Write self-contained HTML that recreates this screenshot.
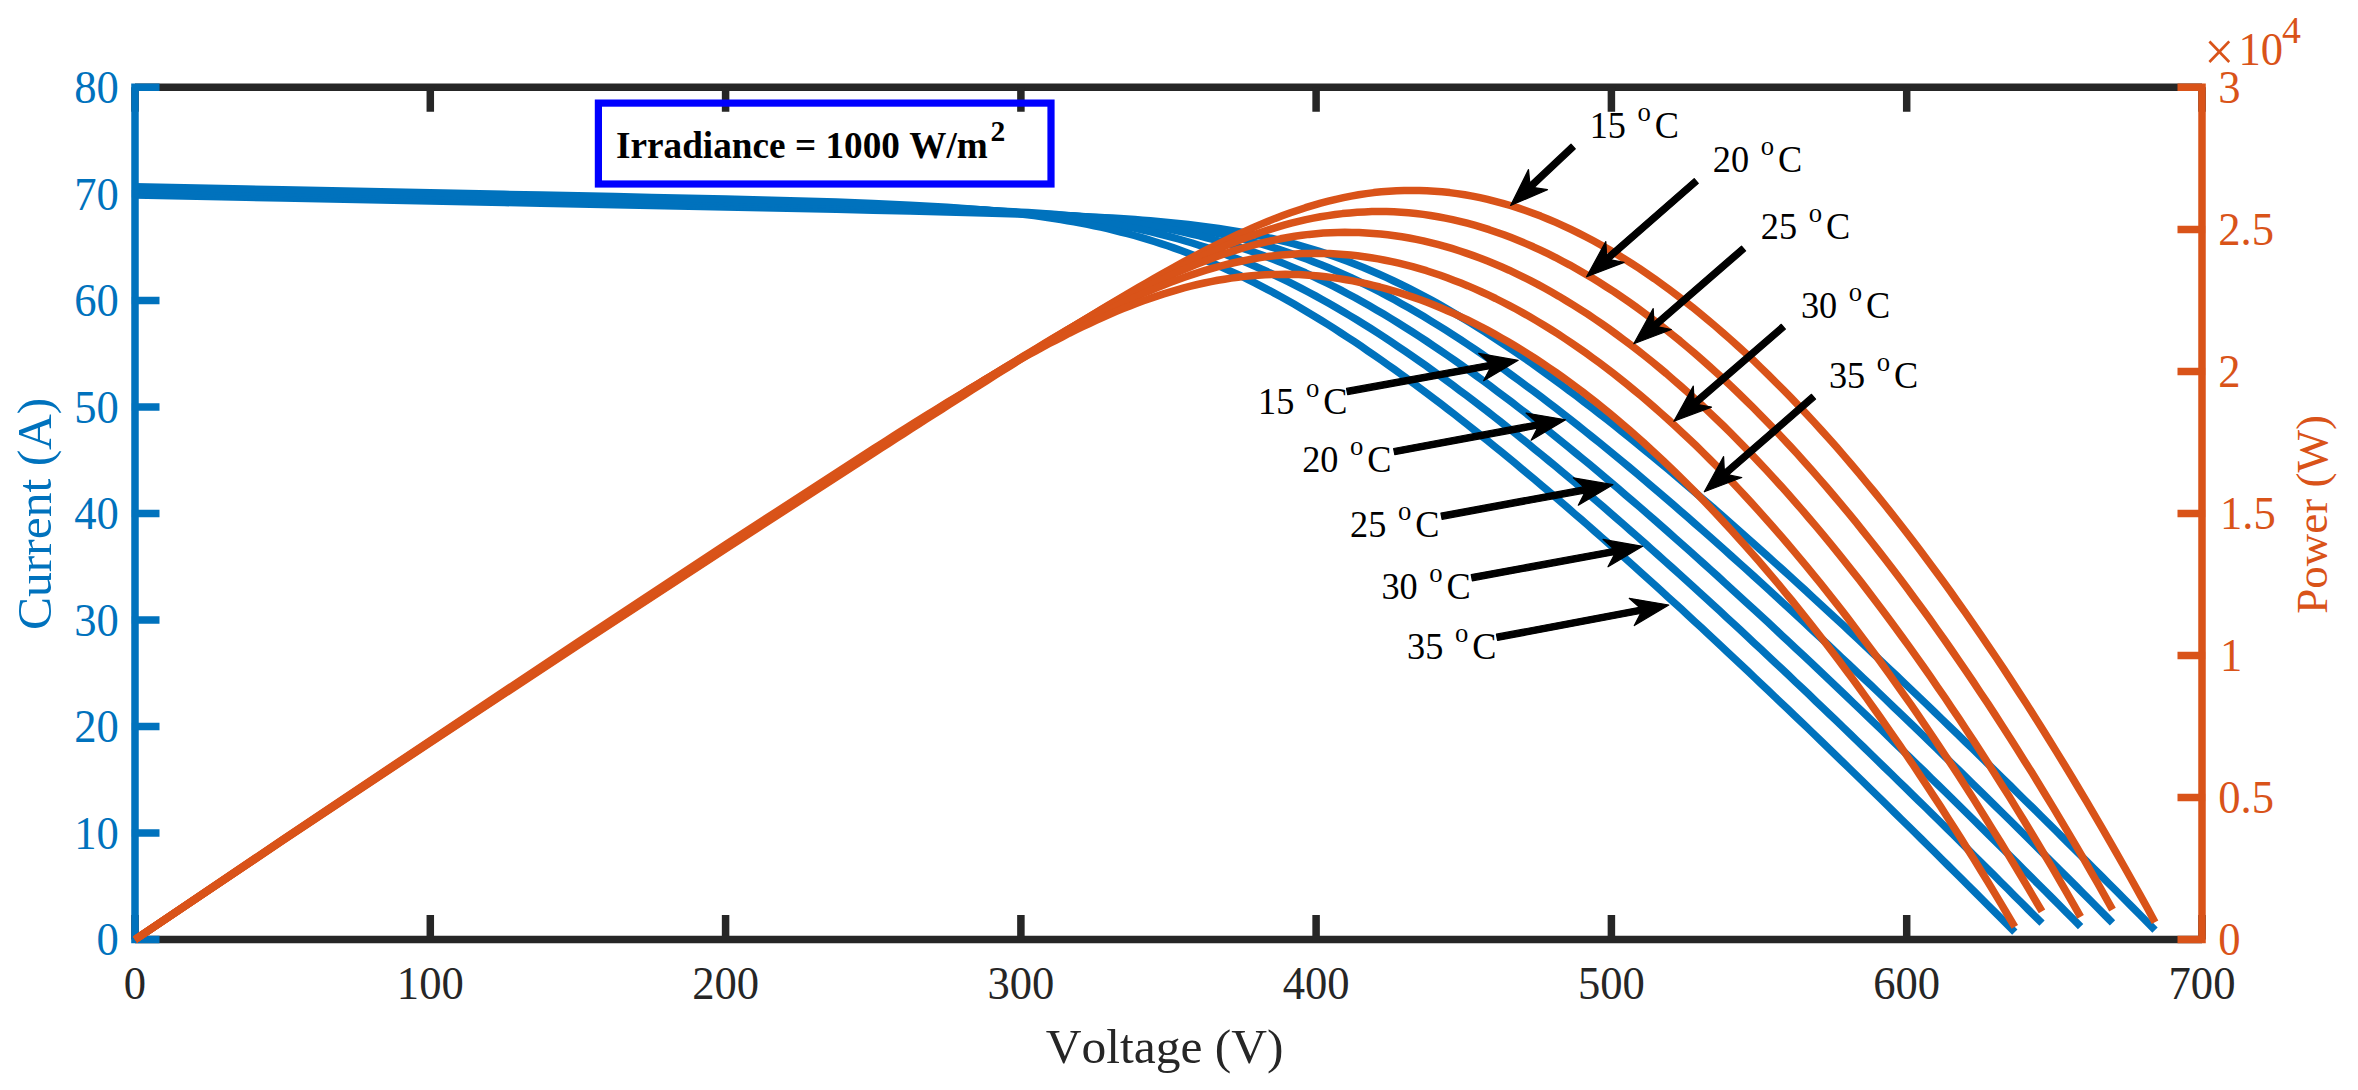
<!DOCTYPE html>
<html lang="en"><head><meta charset="utf-8"><title>PV array I-V and P-V characteristics</title>
<style>html,body{margin:0;padding:0;background:#fff}body{width:2358px;height:1090px;overflow:hidden}svg{display:block}</style>
</head><body>
<svg width="2358" height="1090" viewBox="0 0 2358 1090">
<rect width="2358" height="1090" fill="#fff"/>
<g stroke="#262626" stroke-width="7.5" fill="none">
<path d="M135.0 87.3H2202.0M135.0 939.6H2202.0"/>
<path d="M135.0 87.3v24.5M135.0 939.6v-24.5M430.3 87.3v24.5M430.3 939.6v-24.5M725.6 87.3v24.5M725.6 939.6v-24.5M1020.9 87.3v24.5M1020.9 939.6v-24.5M1316.1 87.3v24.5M1316.1 939.6v-24.5M1611.4 87.3v24.5M1611.4 939.6v-24.5M1906.7 87.3v24.5M1906.7 939.6v-24.5M2202.0 87.3v24.5M2202.0 939.6v-24.5"/></g>
<g stroke="#0072BD" fill="none">
<path stroke-width="7.5" d="M135.0 83.55V943.35M131.2 939.6H159.5M131.2 833.1H159.5M131.2 726.5H159.5M131.2 620.0H159.5M131.2 513.5H159.5M131.2 406.9H159.5M131.2 300.4H159.5M131.2 193.8H159.5M131.2 87.3H159.5"/>
<g stroke-width="7.5" stroke-linejoin="round">
<path d="M135.0 195.1 L171.9 195.8 L208.8 196.5 L245.7 197.3 L282.6 198.0 L319.6 198.8 L356.5 199.5 L393.4 200.3 L430.3 201.0 L467.2 201.8 L504.1 202.5 L541.0 203.3 L577.9 204.0 L614.8 204.8 L651.8 205.5 L688.7 206.3 L725.6 207.0 L762.5 207.8 L799.4 208.6 L836.3 209.3 L873.2 210.2 L910.1 211.0 L947.0 211.9 L983.9 212.9 L1020.9 214.0 L1028.5 214.3 L1036.1 214.6 L1043.7 214.9 L1051.3 215.2 L1058.9 215.5 L1066.5 215.8 L1074.1 216.1 L1081.8 216.5 L1089.4 216.9 L1097.0 217.3 L1104.6 217.7 L1112.2 218.1 L1119.8 218.6 L1127.4 219.1 L1135.0 219.6 L1142.6 220.2 L1150.3 220.8 L1157.9 221.5 L1165.5 222.2 L1173.1 222.9 L1180.7 223.7 L1188.3 224.5 L1195.9 225.4 L1203.5 226.4 L1211.2 227.4 L1218.8 228.5 L1226.4 229.7 L1234.0 231.0 L1241.6 232.3 L1249.2 233.7 L1256.8 235.2 L1264.4 236.8 L1272.1 238.5 L1279.7 240.3 L1287.3 242.2 L1294.9 244.2 L1302.5 246.4 L1310.1 248.6 L1317.7 250.9 L1325.3 253.4 L1333.0 256.0 L1340.6 258.7 L1348.2 261.5 L1355.8 264.5 L1363.4 267.5 L1371.0 270.7 L1378.6 274.0 L1386.2 277.4 L1393.8 281.0 L1401.5 284.7 L1409.1 288.4 L1416.7 292.3 L1424.3 296.3 L1431.9 300.4 L1439.5 304.6 L1447.1 309.0 L1454.7 313.4 L1462.4 317.9 L1470.0 322.5 L1477.6 327.3 L1485.2 332.1 L1492.8 337.0 L1500.4 342.0 L1508.0 347.0 L1515.6 352.2 L1523.3 357.4 L1530.9 362.7 L1538.5 368.1 L1546.1 373.6 L1553.7 379.1 L1561.3 384.7 L1568.9 390.4 L1576.5 396.1 L1584.1 401.9 L1591.8 407.8 L1599.4 413.7 L1607.0 419.6 L1614.6 425.7 L1622.2 431.7 L1629.8 437.9 L1637.4 444.0 L1645.0 450.3 L1652.7 456.5 L1660.3 462.9 L1667.9 469.2 L1675.5 475.6 L1683.1 482.1 L1690.7 488.6 L1698.3 495.1 L1705.9 501.6 L1713.6 508.2 L1721.2 514.9 L1728.8 521.6 L1736.4 528.3 L1744.0 535.0 L1751.6 541.8 L1759.2 548.6 L1766.8 555.4 L1774.4 562.2 L1782.1 569.1 L1789.7 576.0 L1797.3 583.0 L1804.9 589.9 L1812.5 596.9 L1820.1 603.9 L1827.7 611.0 L1835.3 618.0 L1843.0 625.1 L1850.6 632.2 L1858.2 639.4 L1865.8 646.5 L1873.4 653.7 L1881.0 660.9 L1888.6 668.1 L1896.2 675.3 L1903.9 682.6 L1911.5 689.9 L1919.1 697.1 L1926.7 704.4 L1934.3 711.8 L1941.9 719.1 L1949.5 726.5 L1957.1 733.8 L1964.7 741.2 L1972.4 748.6 L1980.0 756.0 L1987.6 763.5 L1995.2 770.9 L2002.8 778.4 L2010.4 785.8 L2018.0 793.3 L2025.6 800.8 L2033.3 808.3 L2040.9 815.8 L2048.5 823.4 L2056.1 830.9 L2063.7 838.5 L2071.3 846.1 L2078.9 853.6 L2086.5 861.2 L2094.2 868.8 L2101.8 876.5 L2109.4 884.1 L2117.0 891.7 L2124.6 899.4 L2132.2 907.0 L2139.8 914.7 L2147.4 922.4 L2155.0 930.1"/>
<path d="M135.0 193.4 L171.9 194.2 L208.8 194.9 L245.7 195.7 L282.6 196.4 L319.6 197.2 L356.5 197.9 L393.4 198.6 L430.3 199.4 L467.2 200.1 L504.1 200.9 L541.0 201.6 L577.9 202.4 L614.8 203.1 L651.8 203.9 L688.7 204.7 L725.6 205.4 L762.5 206.2 L799.4 207.0 L836.3 207.8 L873.2 208.7 L910.1 209.6 L947.0 210.6 L983.9 211.8 L1020.9 213.2 L1028.2 213.6 L1035.5 213.9 L1042.8 214.3 L1050.2 214.6 L1057.5 215.0 L1064.8 215.5 L1072.1 215.9 L1079.5 216.4 L1086.8 216.9 L1094.1 217.4 L1101.5 217.9 L1108.8 218.5 L1116.1 219.2 L1123.4 219.8 L1130.8 220.6 L1138.1 221.3 L1145.4 222.1 L1152.7 223.0 L1160.1 223.9 L1167.4 224.9 L1174.7 225.9 L1182.0 227.0 L1189.4 228.2 L1196.7 229.5 L1204.0 230.8 L1211.4 232.2 L1218.7 233.7 L1226.0 235.2 L1233.3 236.9 L1240.7 238.7 L1248.0 240.5 L1255.3 242.5 L1262.6 244.5 L1270.0 246.7 L1277.3 248.9 L1284.6 251.3 L1291.9 253.8 L1299.3 256.4 L1306.6 259.1 L1313.9 261.9 L1321.2 264.8 L1328.6 267.8 L1335.9 270.9 L1343.2 274.2 L1350.6 277.5 L1357.9 281.0 L1365.2 284.5 L1372.5 288.2 L1379.9 292.0 L1387.2 295.8 L1394.5 299.8 L1401.8 303.9 L1409.2 308.0 L1416.5 312.3 L1423.8 316.6 L1431.1 321.1 L1438.5 325.6 L1445.8 330.2 L1453.1 334.9 L1460.5 339.6 L1467.8 344.5 L1475.1 349.4 L1482.4 354.4 L1489.8 359.5 L1497.1 364.6 L1504.4 369.8 L1511.7 375.1 L1519.1 380.5 L1526.4 385.9 L1533.7 391.3 L1541.0 396.8 L1548.4 402.4 L1555.7 408.0 L1563.0 413.7 L1570.4 419.5 L1577.7 425.2 L1585.0 431.1 L1592.3 437.0 L1599.7 442.9 L1607.0 448.9 L1614.3 454.9 L1621.6 460.9 L1629.0 467.0 L1636.3 473.2 L1643.6 479.3 L1650.9 485.6 L1658.3 491.8 L1665.6 498.1 L1672.9 504.4 L1680.3 510.8 L1687.6 517.1 L1694.9 523.6 L1702.2 530.0 L1709.6 536.5 L1716.9 543.0 L1724.2 549.5 L1731.5 556.1 L1738.9 562.7 L1746.2 569.3 L1753.5 575.9 L1760.8 582.6 L1768.2 589.3 L1775.5 596.0 L1782.8 602.7 L1790.2 609.5 L1797.5 616.3 L1804.8 623.1 L1812.1 629.9 L1819.5 636.7 L1826.8 643.6 L1834.1 650.5 L1841.4 657.4 L1848.8 664.3 L1856.1 671.2 L1863.4 678.2 L1870.7 685.1 L1878.1 692.1 L1885.4 699.1 L1892.7 706.2 L1900.1 713.2 L1907.4 720.2 L1914.7 727.3 L1922.0 734.4 L1929.4 741.5 L1936.7 748.6 L1944.0 755.7 L1951.3 762.9 L1958.7 770.0 L1966.0 777.2 L1973.3 784.4 L1980.6 791.5 L1988.0 798.7 L1995.3 806.0 L2002.6 813.2 L2010.0 820.4 L2017.3 827.7 L2024.6 834.9 L2031.9 842.2 L2039.3 849.5 L2046.6 856.8 L2053.9 864.1 L2061.2 871.4 L2068.6 878.7 L2075.9 886.0 L2083.2 893.4 L2090.5 900.7 L2097.9 908.1 L2105.2 915.5 L2112.5 922.8"/>
<path d="M135.0 191.0 L171.9 191.7 L208.8 192.4 L245.7 193.2 L282.6 193.9 L319.6 194.7 L356.5 195.4 L393.4 196.2 L430.3 196.9 L467.2 197.7 L504.1 198.4 L541.0 199.2 L577.9 199.9 L614.8 200.7 L651.8 201.4 L688.7 202.2 L725.6 203.0 L762.5 203.8 L799.4 204.6 L836.3 205.5 L873.2 206.4 L910.1 207.5 L947.0 208.8 L983.9 210.3 L1020.9 212.2 L1028.0 212.6 L1035.1 213.1 L1042.2 213.6 L1049.3 214.1 L1056.4 214.6 L1063.5 215.2 L1070.6 215.8 L1077.8 216.4 L1084.9 217.1 L1092.0 217.8 L1099.1 218.6 L1106.2 219.4 L1113.3 220.3 L1120.4 221.2 L1127.5 222.2 L1134.7 223.2 L1141.8 224.3 L1148.9 225.5 L1156.0 226.7 L1163.1 228.0 L1170.2 229.4 L1177.3 230.8 L1184.4 232.4 L1191.6 234.0 L1198.7 235.7 L1205.8 237.5 L1212.9 239.4 L1220.0 241.4 L1227.1 243.4 L1234.2 245.6 L1241.3 247.9 L1248.5 250.2 L1255.6 252.7 L1262.7 255.3 L1269.8 258.0 L1276.9 260.7 L1284.0 263.6 L1291.1 266.6 L1298.2 269.7 L1305.4 272.8 L1312.5 276.1 L1319.6 279.5 L1326.7 283.0 L1333.8 286.5 L1340.9 290.2 L1348.0 294.0 L1355.2 297.8 L1362.3 301.8 L1369.4 305.8 L1376.5 309.9 L1383.6 314.1 L1390.7 318.4 L1397.8 322.8 L1404.9 327.2 L1412.1 331.7 L1419.2 336.3 L1426.3 341.0 L1433.4 345.8 L1440.5 350.6 L1447.6 355.5 L1454.7 360.4 L1461.8 365.4 L1469.0 370.5 L1476.1 375.6 L1483.2 380.8 L1490.3 386.1 L1497.4 391.4 L1504.5 396.7 L1511.6 402.1 L1518.7 407.6 L1525.9 413.1 L1533.0 418.7 L1540.1 424.3 L1547.2 429.9 L1554.3 435.6 L1561.4 441.4 L1568.5 447.2 L1575.6 453.0 L1582.8 458.8 L1589.9 464.7 L1597.0 470.7 L1604.1 476.7 L1611.2 482.7 L1618.3 488.7 L1625.4 494.8 L1632.5 500.9 L1639.7 507.0 L1646.8 513.2 L1653.9 519.4 L1661.0 525.6 L1668.1 531.9 L1675.2 538.2 L1682.3 544.5 L1689.4 550.8 L1696.6 557.2 L1703.7 563.6 L1710.8 570.0 L1717.9 576.4 L1725.0 582.9 L1732.1 589.4 L1739.2 595.9 L1746.3 602.4 L1753.5 609.0 L1760.6 615.5 L1767.7 622.1 L1774.8 628.7 L1781.9 635.4 L1789.0 642.0 L1796.1 648.7 L1803.2 655.3 L1810.4 662.0 L1817.5 668.8 L1824.6 675.5 L1831.7 682.2 L1838.8 689.0 L1845.9 695.8 L1853.0 702.6 L1860.1 709.4 L1867.3 716.2 L1874.4 723.1 L1881.5 729.9 L1888.6 736.8 L1895.7 743.7 L1902.8 750.6 L1909.9 757.5 L1917.0 764.4 L1924.2 771.3 L1931.3 778.3 L1938.4 785.2 L1945.5 792.2 L1952.6 799.2 L1959.7 806.2 L1966.8 813.2 L1973.9 820.2 L1981.1 827.2 L1988.2 834.3 L1995.3 841.3 L2002.4 848.4 L2009.5 855.4 L2016.6 862.5 L2023.7 869.6 L2030.8 876.7 L2038.0 883.8 L2045.1 890.9 L2052.2 898.0 L2059.3 905.2 L2066.4 912.3 L2073.5 919.4 L2080.6 926.6"/>
<path d="M135.0 189.2 L171.9 190.0 L208.8 190.7 L245.7 191.5 L282.6 192.2 L319.6 193.0 L356.5 193.7 L393.4 194.5 L430.3 195.2 L467.2 196.0 L504.1 196.7 L541.0 197.5 L577.9 198.2 L614.8 199.0 L651.8 199.7 L688.7 200.5 L725.6 201.3 L762.5 202.2 L799.4 203.1 L836.3 204.1 L873.2 205.2 L910.1 206.4 L947.0 208.0 L983.9 210.0 L1020.9 212.7 L1027.7 213.3 L1034.6 213.9 L1041.4 214.6 L1048.3 215.2 L1055.1 216.0 L1062.0 216.8 L1068.8 217.6 L1075.7 218.4 L1082.5 219.4 L1089.4 220.3 L1096.2 221.4 L1103.1 222.4 L1109.9 223.6 L1116.8 224.8 L1123.7 226.1 L1130.5 227.4 L1137.4 228.8 L1144.2 230.3 L1151.1 231.9 L1157.9 233.5 L1164.8 235.3 L1171.6 237.1 L1178.5 239.0 L1185.3 241.0 L1192.2 243.0 L1199.0 245.2 L1205.9 247.4 L1212.7 249.8 L1219.6 252.2 L1226.4 254.7 L1233.3 257.4 L1240.2 260.1 L1247.0 262.9 L1253.9 265.8 L1260.7 268.8 L1267.6 271.8 L1274.4 275.0 L1281.3 278.3 L1288.1 281.6 L1295.0 285.1 L1301.8 288.6 L1308.7 292.2 L1315.5 295.9 L1322.4 299.7 L1329.2 303.5 L1336.1 307.5 L1342.9 311.5 L1349.8 315.6 L1356.7 319.8 L1363.5 324.0 L1370.4 328.3 L1377.2 332.7 L1384.1 337.2 L1390.9 341.7 L1397.8 346.3 L1404.6 350.9 L1411.5 355.6 L1418.3 360.4 L1425.2 365.2 L1432.0 370.1 L1438.9 375.0 L1445.7 380.0 L1452.6 385.1 L1459.4 390.2 L1466.3 395.3 L1473.2 400.5 L1480.0 405.8 L1486.9 411.0 L1493.7 416.4 L1500.6 421.8 L1507.4 427.2 L1514.3 432.6 L1521.1 438.1 L1528.0 443.7 L1534.8 449.3 L1541.7 454.9 L1548.5 460.5 L1555.4 466.2 L1562.2 471.9 L1569.1 477.7 L1576.0 483.4 L1582.8 489.3 L1589.7 495.1 L1596.5 501.0 L1603.4 506.9 L1610.2 512.8 L1617.1 518.8 L1623.9 524.8 L1630.8 530.8 L1637.6 536.8 L1644.5 542.9 L1651.3 549.0 L1658.2 555.1 L1665.0 561.2 L1671.9 567.4 L1678.7 573.6 L1685.6 579.8 L1692.5 586.0 L1699.3 592.2 L1706.2 598.5 L1713.0 604.8 L1719.9 611.1 L1726.7 617.4 L1733.6 623.8 L1740.4 630.1 L1747.3 636.5 L1754.1 642.9 L1761.0 649.3 L1767.8 655.7 L1774.7 662.2 L1781.5 668.6 L1788.4 675.1 L1795.2 681.6 L1802.1 688.1 L1809.0 694.6 L1815.8 701.2 L1822.7 707.7 L1829.5 714.3 L1836.4 720.8 L1843.2 727.4 L1850.1 734.0 L1856.9 740.6 L1863.8 747.3 L1870.6 753.9 L1877.5 760.6 L1884.3 767.2 L1891.2 773.9 L1898.0 780.6 L1904.9 787.3 L1911.7 794.0 L1918.6 800.7 L1925.5 807.4 L1932.3 814.2 L1939.2 820.9 L1946.0 827.7 L1952.9 834.4 L1959.7 841.2 L1966.6 848.0 L1973.4 854.8 L1980.3 861.6 L1987.1 868.4 L1994.0 875.2 L2000.8 882.1 L2007.7 888.9 L2014.5 895.8 L2021.4 902.6 L2028.2 909.5 L2035.1 916.4 L2042.0 923.2"/>
<path d="M135.0 186.8 L171.9 187.6 L208.8 188.3 L245.7 189.1 L282.6 189.8 L319.6 190.6 L356.5 191.3 L393.4 192.1 L430.3 192.8 L467.2 193.6 L504.1 194.3 L541.0 195.1 L577.9 195.8 L614.8 196.6 L651.8 197.4 L688.7 198.2 L725.6 199.1 L762.5 200.0 L799.4 201.0 L836.3 202.1 L873.2 203.5 L910.1 205.2 L947.0 207.3 L983.9 210.1 L1020.9 213.9 L1027.5 214.7 L1034.2 215.6 L1040.9 216.5 L1047.5 217.5 L1054.2 218.5 L1060.9 219.5 L1067.6 220.7 L1074.2 221.8 L1080.9 223.1 L1087.6 224.4 L1094.2 225.8 L1100.9 227.2 L1107.6 228.7 L1114.2 230.3 L1120.9 232.0 L1127.6 233.7 L1134.3 235.5 L1140.9 237.4 L1147.6 239.4 L1154.3 241.5 L1160.9 243.6 L1167.6 245.8 L1174.3 248.1 L1181.0 250.5 L1187.6 253.0 L1194.3 255.6 L1201.0 258.3 L1207.6 261.0 L1214.3 263.8 L1221.0 266.8 L1227.6 269.8 L1234.3 272.9 L1241.0 276.0 L1247.7 279.3 L1254.3 282.6 L1261.0 286.1 L1267.7 289.6 L1274.3 293.1 L1281.0 296.8 L1287.7 300.5 L1294.4 304.3 L1301.0 308.2 L1307.7 312.2 L1314.4 316.2 L1321.0 320.3 L1327.7 324.4 L1334.4 328.7 L1341.0 333.0 L1347.7 337.3 L1354.4 341.7 L1361.1 346.2 L1367.7 350.8 L1374.4 355.3 L1381.1 360.0 L1387.7 364.7 L1394.4 369.4 L1401.1 374.3 L1407.8 379.1 L1414.4 384.0 L1421.1 389.0 L1427.8 394.0 L1434.4 399.0 L1441.1 404.1 L1447.8 409.2 L1454.5 414.4 L1461.1 419.6 L1467.8 424.9 L1474.5 430.2 L1481.1 435.5 L1487.8 440.9 L1494.5 446.3 L1501.1 451.7 L1507.8 457.2 L1514.5 462.7 L1521.2 468.3 L1527.8 473.8 L1534.5 479.4 L1541.2 485.1 L1547.8 490.7 L1554.5 496.4 L1561.2 502.1 L1567.9 507.9 L1574.5 513.7 L1581.2 519.4 L1587.9 525.3 L1594.5 531.1 L1601.2 537.0 L1607.9 542.9 L1614.5 548.8 L1621.2 554.7 L1627.9 560.7 L1634.6 566.7 L1641.2 572.7 L1647.9 578.7 L1654.6 584.8 L1661.2 590.8 L1667.9 596.9 L1674.6 603.0 L1681.3 609.1 L1687.9 615.3 L1694.6 621.4 L1701.3 627.6 L1707.9 633.8 L1714.6 640.0 L1721.3 646.2 L1727.9 652.5 L1734.6 658.7 L1741.3 665.0 L1748.0 671.3 L1754.6 677.6 L1761.3 683.9 L1768.0 690.2 L1774.6 696.6 L1781.3 702.9 L1788.0 709.3 L1794.7 715.7 L1801.3 722.0 L1808.0 728.4 L1814.7 734.9 L1821.3 741.3 L1828.0 747.7 L1834.7 754.2 L1841.4 760.7 L1848.0 767.1 L1854.7 773.6 L1861.4 780.1 L1868.0 786.6 L1874.7 793.1 L1881.4 799.7 L1888.0 806.2 L1894.7 812.7 L1901.4 819.3 L1908.1 825.9 L1914.7 832.4 L1921.4 839.0 L1928.1 845.6 L1934.7 852.2 L1941.4 858.8 L1948.1 865.5 L1954.8 872.1 L1961.4 878.7 L1968.1 885.4 L1974.8 892.0 L1981.4 898.7 L1988.1 905.4 L1994.8 912.0 L2001.4 918.7 L2008.1 925.4 L2014.8 932.1"/>
</g></g>
<g stroke="#D95319" fill="none">
<path stroke-width="7.5" d="M2202.0 83.55V943.35M2205.8 939.6H2177.5M2205.8 797.5H2177.5M2205.8 655.5H2177.5M2205.8 513.5H2177.5M2205.8 371.4H2177.5M2205.8 229.4H2177.5M2205.8 87.3H2177.5"/>
<g stroke-width="7.5" stroke-linejoin="round">
<path d="M135.0 939.6 L282.6 840.7 L430.3 742.6 L577.9 645.4 L725.6 548.9 L873.2 453.3 L880.8 448.4 L888.4 443.5 L896.0 438.7 L903.6 433.8 L911.1 428.9 L918.7 424.1 L926.3 419.2 L933.9 414.4 L941.5 409.5 L949.1 404.7 L956.6 399.8 L964.2 395.0 L971.8 390.2 L979.4 385.3 L987.0 380.5 L994.6 375.7 L1002.2 370.9 L1009.7 366.2 L1017.3 361.4 L1024.9 356.6 L1032.5 351.9 L1040.1 347.1 L1047.7 342.4 L1055.3 337.7 L1062.8 333.0 L1070.4 328.3 L1078.0 323.6 L1085.6 319.0 L1093.2 314.4 L1100.8 309.8 L1108.3 305.2 L1115.9 300.7 L1123.5 296.2 L1131.1 291.7 L1138.7 287.3 L1146.3 282.9 L1153.9 278.5 L1161.4 274.2 L1169.0 270.0 L1176.6 265.8 L1184.2 261.6 L1191.8 257.6 L1199.4 253.6 L1206.9 249.6 L1214.5 245.8 L1222.1 242.0 L1229.7 238.3 L1237.3 234.7 L1244.9 231.3 L1252.5 227.9 L1260.0 224.6 L1267.6 221.5 L1275.2 218.4 L1282.8 215.6 L1290.4 212.8 L1298.0 210.2 L1305.5 207.7 L1313.1 205.4 L1320.7 203.2 L1328.3 201.2 L1335.9 199.3 L1343.5 197.7 L1351.1 196.1 L1358.6 194.8 L1366.2 193.6 L1373.8 192.6 L1381.4 191.8 L1389.0 191.2 L1396.6 190.7 L1404.2 190.4 L1411.7 190.4 L1419.3 190.4 L1426.9 190.7 L1434.5 191.2 L1442.1 191.8 L1449.7 192.6 L1457.2 193.6 L1464.8 194.8 L1472.4 196.1 L1480.0 197.7 L1487.6 199.4 L1495.2 201.3 L1502.8 203.3 L1510.3 205.5 L1517.9 207.9 L1525.5 210.5 L1533.1 213.2 L1540.7 216.1 L1548.3 219.2 L1555.8 222.4 L1563.4 225.8 L1571.0 229.4 L1578.6 233.1 L1586.2 237.0 L1593.8 241.0 L1601.4 245.2 L1608.9 249.5 L1616.5 254.0 L1624.1 258.7 L1631.7 263.5 L1639.3 268.4 L1646.9 273.6 L1654.5 278.8 L1662.0 284.2 L1669.6 289.7 L1677.2 295.4 L1684.8 301.3 L1692.4 307.2 L1700.0 313.4 L1707.5 319.6 L1715.1 326.0 L1722.7 332.6 L1730.3 339.3 L1737.9 346.1 L1745.5 353.0 L1753.1 360.1 L1760.6 367.4 L1768.2 374.7 L1775.8 382.3 L1783.4 389.9 L1791.0 397.7 L1798.6 405.6 L1806.1 413.6 L1813.7 421.8 L1821.3 430.1 L1828.9 438.6 L1836.5 447.1 L1844.1 455.9 L1851.7 464.7 L1859.2 473.7 L1866.8 482.8 L1874.4 492.0 L1882.0 501.3 L1889.6 510.8 L1897.2 520.5 L1904.8 530.2 L1912.3 540.1 L1919.9 550.1 L1927.5 560.2 L1935.1 570.5 L1942.7 580.8 L1950.3 591.3 L1957.8 602.0 L1965.4 612.7 L1973.0 623.6 L1980.6 634.6 L1988.2 645.8 L1995.8 657.0 L2003.4 668.4 L2010.9 679.9 L2018.5 691.6 L2026.1 703.3 L2033.7 715.2 L2041.3 727.2 L2048.9 739.4 L2056.4 751.6 L2064.0 764.0 L2071.6 776.5 L2079.2 789.2 L2086.8 801.9 L2094.4 814.8 L2102.0 827.8 L2109.5 840.9 L2117.1 854.1 L2124.7 867.5 L2132.3 881.0 L2139.9 894.6 L2147.5 908.3 L2155.0 922.2"/>
<path d="M135.0 939.6 L282.6 840.5 L430.3 742.2 L577.9 644.7 L725.6 548.0 L873.2 452.3 L880.5 447.6 L887.9 442.9 L895.2 438.2 L902.5 433.5 L909.9 428.7 L917.2 424.1 L924.5 419.4 L931.9 414.7 L939.2 410.0 L946.5 405.3 L953.9 400.7 L961.2 396.0 L968.5 391.4 L975.9 386.7 L983.2 382.1 L990.5 377.5 L997.9 372.9 L1005.2 368.3 L1012.5 363.7 L1019.9 359.1 L1027.2 354.6 L1034.5 350.0 L1041.9 345.5 L1049.2 341.0 L1056.5 336.5 L1063.9 332.1 L1071.2 327.7 L1078.5 323.3 L1085.9 318.9 L1093.2 314.6 L1100.5 310.3 L1107.9 306.0 L1115.2 301.8 L1122.5 297.6 L1129.9 293.5 L1137.2 289.4 L1144.5 285.4 L1151.9 281.4 L1159.2 277.5 L1166.5 273.7 L1173.9 269.9 L1181.2 266.2 L1188.5 262.6 L1195.9 259.1 L1203.2 255.7 L1210.5 252.3 L1217.9 249.1 L1225.2 246.0 L1232.5 242.9 L1239.9 240.0 L1247.2 237.2 L1254.5 234.6 L1261.9 232.0 L1269.2 229.6 L1276.5 227.4 L1283.9 225.2 L1291.2 223.2 L1298.5 221.4 L1305.9 219.7 L1313.2 218.2 L1320.5 216.8 L1327.9 215.6 L1335.2 214.5 L1342.5 213.6 L1349.9 212.9 L1357.2 212.3 L1364.5 211.9 L1371.9 211.6 L1379.2 211.5 L1386.5 211.6 L1393.9 211.8 L1401.2 212.2 L1408.5 212.8 L1415.9 213.5 L1423.2 214.4 L1430.5 215.5 L1437.9 216.7 L1445.2 218.1 L1452.5 219.6 L1459.9 221.3 L1467.2 223.2 L1474.5 225.2 L1481.9 227.4 L1489.2 229.7 L1496.5 232.2 L1503.9 234.8 L1511.2 237.6 L1518.5 240.5 L1525.9 243.6 L1533.2 246.8 L1540.5 250.2 L1547.9 253.7 L1555.2 257.3 L1562.5 261.2 L1569.9 265.1 L1577.2 269.2 L1584.5 273.4 L1591.9 277.8 L1599.2 282.3 L1606.5 287.0 L1613.9 291.7 L1621.2 296.7 L1628.5 301.7 L1635.9 306.9 L1643.2 312.2 L1650.5 317.7 L1657.9 323.3 L1665.2 329.0 L1672.5 334.9 L1679.9 340.8 L1687.2 347.0 L1694.5 353.2 L1701.9 359.6 L1709.2 366.1 L1716.5 372.7 L1723.9 379.4 L1731.2 386.3 L1738.5 393.3 L1745.9 400.5 L1753.2 407.7 L1760.5 415.1 L1767.9 422.6 L1775.2 430.2 L1782.5 438.0 L1789.9 445.9 L1797.2 453.8 L1804.5 462.0 L1811.9 470.2 L1819.2 478.6 L1826.5 487.0 L1833.9 495.7 L1841.2 504.4 L1848.5 513.2 L1855.9 522.2 L1863.2 531.3 L1870.5 540.5 L1877.9 549.8 L1885.2 559.2 L1892.5 568.8 L1899.9 578.5 L1907.2 588.3 L1914.5 598.2 L1921.9 608.2 L1929.2 618.3 L1936.5 628.6 L1943.9 639.0 L1951.2 649.5 L1958.5 660.1 L1965.9 670.8 L1973.2 681.7 L1980.5 692.7 L1987.9 703.7 L1995.2 714.9 L2002.5 726.2 L2009.9 737.7 L2017.2 749.2 L2024.5 760.9 L2031.9 772.6 L2039.2 784.5 L2046.5 796.5 L2053.9 808.6 L2061.2 820.9 L2068.5 833.2 L2075.9 845.7 L2083.2 858.2 L2090.5 870.9 L2097.9 883.7 L2105.2 896.6 L2112.5 909.7"/>
<path d="M135.0 939.6 L282.6 840.2 L430.3 741.6 L577.9 643.7 L725.6 546.7 L873.2 450.8 L880.4 446.2 L887.5 441.6 L894.6 437.1 L901.8 432.5 L908.9 427.9 L916.1 423.3 L923.2 418.8 L930.4 414.2 L937.5 409.7 L944.7 405.1 L951.8 400.6 L958.9 396.1 L966.1 391.6 L973.2 387.1 L980.4 382.7 L987.5 378.2 L994.7 373.8 L1001.8 369.3 L1009.0 364.9 L1016.1 360.6 L1023.2 356.2 L1030.4 351.9 L1037.5 347.6 L1044.7 343.3 L1051.8 339.0 L1059.0 334.8 L1066.1 330.6 L1073.3 326.5 L1080.4 322.4 L1087.5 318.3 L1094.7 314.3 L1101.8 310.3 L1109.0 306.4 L1116.1 302.6 L1123.3 298.8 L1130.4 295.0 L1137.6 291.4 L1144.7 287.8 L1151.9 284.3 L1159.0 280.8 L1166.1 277.5 L1173.3 274.2 L1180.4 271.1 L1187.6 268.0 L1194.7 265.0 L1201.9 262.2 L1209.0 259.4 L1216.2 256.8 L1223.3 254.3 L1230.4 251.9 L1237.6 249.6 L1244.7 247.5 L1251.9 245.5 L1259.0 243.6 L1266.2 241.9 L1273.3 240.3 L1280.5 238.8 L1287.6 237.5 L1294.7 236.3 L1301.9 235.3 L1309.0 234.4 L1316.2 233.7 L1323.3 233.1 L1330.5 232.7 L1337.6 232.4 L1344.8 232.3 L1351.9 232.4 L1359.0 232.5 L1366.2 232.9 L1373.3 233.4 L1380.5 234.0 L1387.6 234.8 L1394.8 235.7 L1401.9 236.8 L1409.1 238.0 L1416.2 239.4 L1423.3 240.9 L1430.5 242.6 L1437.6 244.4 L1444.8 246.3 L1451.9 248.4 L1459.1 250.7 L1466.2 253.1 L1473.4 255.6 L1480.5 258.2 L1487.6 261.0 L1494.8 264.0 L1501.9 267.0 L1509.1 270.2 L1516.2 273.6 L1523.4 277.1 L1530.5 280.7 L1537.7 284.4 L1544.8 288.3 L1551.9 292.3 L1559.1 296.4 L1566.2 300.7 L1573.4 305.1 L1580.5 309.6 L1587.7 314.2 L1594.8 319.0 L1602.0 323.9 L1609.1 328.9 L1616.2 334.1 L1623.4 339.4 L1630.5 344.7 L1637.7 350.3 L1644.8 355.9 L1652.0 361.7 L1659.1 367.5 L1666.3 373.5 L1673.4 379.7 L1680.5 385.9 L1687.7 392.3 L1694.8 398.7 L1702.0 405.3 L1709.1 412.1 L1716.3 418.9 L1723.4 425.8 L1730.6 432.9 L1737.7 440.1 L1744.8 447.4 L1752.0 454.8 L1759.1 462.3 L1766.3 470.0 L1773.4 477.7 L1780.6 485.6 L1787.7 493.6 L1794.9 501.7 L1802.0 509.9 L1809.1 518.2 L1816.3 526.7 L1823.4 535.2 L1830.6 543.9 L1837.7 552.7 L1844.9 561.6 L1852.0 570.6 L1859.2 579.7 L1866.3 588.9 L1873.4 598.3 L1880.6 607.7 L1887.7 617.3 L1894.9 626.9 L1902.0 636.7 L1909.2 646.6 L1916.3 656.6 L1923.5 666.7 L1930.6 676.9 L1937.7 687.3 L1944.9 697.7 L1952.0 708.3 L1959.2 718.9 L1966.3 729.7 L1973.5 740.6 L1980.6 751.6 L1987.8 762.7 L1994.9 773.9 L2002.0 785.2 L2009.2 796.6 L2016.3 808.1 L2023.5 819.8 L2030.6 831.5 L2037.8 843.4 L2044.9 855.3 L2052.1 867.4 L2059.2 879.6 L2066.3 891.9 L2073.5 904.3 L2080.6 916.8"/>
<path d="M135.0 939.6 L282.6 839.9 L430.3 741.1 L577.9 643.0 L725.6 545.9 L873.2 450.0 L880.1 445.5 L887.0 441.1 L894.0 436.7 L900.9 432.3 L907.8 427.9 L914.7 423.5 L921.6 419.1 L928.5 414.7 L935.5 410.4 L942.4 406.0 L949.3 401.7 L956.2 397.4 L963.1 393.1 L970.0 388.8 L976.9 384.6 L983.9 380.3 L990.8 376.1 L997.7 371.9 L1004.6 367.7 L1011.5 363.6 L1018.4 359.5 L1025.4 355.4 L1032.3 351.4 L1039.2 347.4 L1046.1 343.4 L1053.0 339.5 L1059.9 335.6 L1066.9 331.8 L1073.8 328.0 L1080.7 324.3 L1087.6 320.6 L1094.5 317.0 L1101.4 313.5 L1108.3 310.0 L1115.3 306.6 L1122.2 303.2 L1129.1 300.0 L1136.0 296.8 L1142.9 293.7 L1149.8 290.7 L1156.8 287.8 L1163.7 285.0 L1170.6 282.3 L1177.5 279.7 L1184.4 277.2 L1191.3 274.9 L1198.2 272.6 L1205.2 270.4 L1212.1 268.4 L1219.0 266.5 L1225.9 264.7 L1232.8 263.0 L1239.7 261.5 L1246.7 260.1 L1253.6 258.8 L1260.5 257.6 L1267.4 256.6 L1274.3 255.8 L1281.2 255.0 L1288.2 254.4 L1295.1 253.9 L1302.0 253.6 L1308.9 253.4 L1315.8 253.3 L1322.7 253.4 L1329.6 253.6 L1336.6 254.0 L1343.5 254.5 L1350.4 255.1 L1357.3 255.8 L1364.2 256.7 L1371.1 257.8 L1378.1 258.9 L1385.0 260.2 L1391.9 261.6 L1398.8 263.2 L1405.7 264.9 L1412.6 266.7 L1419.5 268.7 L1426.5 270.7 L1433.4 273.0 L1440.3 275.3 L1447.2 277.8 L1454.1 280.4 L1461.0 283.1 L1468.0 285.9 L1474.9 288.9 L1481.8 292.0 L1488.7 295.2 L1495.6 298.5 L1502.5 302.0 L1509.5 305.6 L1516.4 309.3 L1523.3 313.1 L1530.2 317.0 L1537.1 321.1 L1544.0 325.2 L1550.9 329.5 L1557.9 333.9 L1564.8 338.5 L1571.7 343.1 L1578.6 347.9 L1585.5 352.7 L1592.4 357.7 L1599.4 362.8 L1606.3 368.0 L1613.2 373.3 L1620.1 378.8 L1627.0 384.3 L1633.9 390.0 L1640.8 395.7 L1647.8 401.6 L1654.7 407.6 L1661.6 413.7 L1668.5 419.9 L1675.4 426.2 L1682.3 432.7 L1689.3 439.2 L1696.2 445.8 L1703.1 452.6 L1710.0 459.5 L1716.9 466.4 L1723.8 473.5 L1730.8 480.7 L1737.7 488.0 L1744.6 495.4 L1751.5 502.9 L1758.4 510.5 L1765.3 518.2 L1772.2 526.0 L1779.2 533.9 L1786.1 542.0 L1793.0 550.1 L1799.9 558.3 L1806.8 566.7 L1813.7 575.1 L1820.7 583.7 L1827.6 592.3 L1834.5 601.1 L1841.4 609.9 L1848.3 618.9 L1855.2 628.0 L1862.1 637.2 L1869.1 646.4 L1876.0 655.8 L1882.9 665.3 L1889.8 674.9 L1896.7 684.6 L1903.6 694.3 L1910.6 704.2 L1917.5 714.2 L1924.4 724.3 L1931.3 734.5 L1938.2 744.8 L1945.1 755.2 L1952.1 765.7 L1959.0 776.3 L1965.9 787.0 L1972.8 797.8 L1979.7 808.7 L1986.6 819.7 L1993.5 830.9 L2000.5 842.1 L2007.4 853.4 L2014.3 864.8 L2021.2 876.3 L2028.1 887.9 L2035.0 899.6 L2042.0 911.4"/>
<path d="M135.0 939.6 L282.6 839.6 L430.3 740.5 L577.9 642.1 L725.6 544.7 L873.2 448.9 L880.0 444.6 L886.7 440.3 L893.5 436.0 L900.2 431.7 L907.0 427.5 L913.7 423.2 L920.5 419.0 L927.3 414.8 L934.0 410.6 L940.8 406.4 L947.5 402.3 L954.3 398.2 L961.0 394.1 L967.8 390.0 L974.5 385.9 L981.3 381.9 L988.0 377.9 L994.8 374.0 L1001.6 370.0 L1008.3 366.2 L1015.1 362.3 L1021.8 358.5 L1028.6 354.8 L1035.3 351.1 L1042.1 347.4 L1048.8 343.8 L1055.6 340.3 L1062.4 336.8 L1069.1 333.3 L1075.9 330.0 L1082.6 326.7 L1089.4 323.5 L1096.1 320.4 L1102.9 317.3 L1109.6 314.3 L1116.4 311.4 L1123.1 308.6 L1129.9 305.9 L1136.7 303.3 L1143.4 300.8 L1150.2 298.4 L1156.9 296.1 L1163.7 293.9 L1170.4 291.8 L1177.2 289.8 L1183.9 287.9 L1190.7 286.2 L1197.4 284.5 L1204.2 283.0 L1211.0 281.6 L1217.7 280.3 L1224.5 279.2 L1231.2 278.1 L1238.0 277.2 L1244.7 276.4 L1251.5 275.7 L1258.2 275.2 L1265.0 274.8 L1271.8 274.5 L1278.5 274.4 L1285.3 274.3 L1292.0 274.4 L1298.8 274.6 L1305.5 275.0 L1312.3 275.5 L1319.0 276.1 L1325.8 276.8 L1332.5 277.6 L1339.3 278.6 L1346.1 279.7 L1352.8 280.9 L1359.6 282.3 L1366.3 283.7 L1373.1 285.3 L1379.8 287.0 L1386.6 288.9 L1393.3 290.8 L1400.1 292.9 L1406.8 295.1 L1413.6 297.4 L1420.4 299.8 L1427.1 302.3 L1433.9 305.0 L1440.6 307.8 L1447.4 310.7 L1454.1 313.7 L1460.9 316.8 L1467.6 320.0 L1474.4 323.4 L1481.2 326.8 L1487.9 330.4 L1494.7 334.1 L1501.4 337.9 L1508.2 341.8 L1514.9 345.8 L1521.7 349.9 L1528.4 354.1 L1535.2 358.5 L1541.9 362.9 L1548.7 367.5 L1555.5 372.1 L1562.2 376.9 L1569.0 381.8 L1575.7 386.8 L1582.5 391.8 L1589.2 397.0 L1596.0 402.3 L1602.7 407.7 L1609.5 413.2 L1616.3 418.9 L1623.0 424.6 L1629.8 430.4 L1636.5 436.3 L1643.3 442.3 L1650.0 448.5 L1656.8 454.7 L1663.5 461.0 L1670.3 467.5 L1677.0 474.0 L1683.8 480.7 L1690.6 487.4 L1697.3 494.2 L1704.1 501.2 L1710.8 508.2 L1717.6 515.4 L1724.3 522.6 L1731.1 530.0 L1737.8 537.4 L1744.6 544.9 L1751.3 552.6 L1758.1 560.3 L1764.9 568.2 L1771.6 576.1 L1778.4 584.2 L1785.1 592.3 L1791.9 600.5 L1798.6 608.9 L1805.4 617.3 L1812.1 625.8 L1818.9 634.5 L1825.7 643.2 L1832.4 652.0 L1839.2 660.9 L1845.9 670.0 L1852.7 679.1 L1859.4 688.3 L1866.2 697.6 L1872.9 707.0 L1879.7 716.5 L1886.4 726.1 L1893.2 735.8 L1900.0 745.6 L1906.7 755.5 L1913.5 765.5 L1920.2 775.6 L1927.0 785.8 L1933.7 796.1 L1940.5 806.4 L1947.2 816.9 L1954.0 827.5 L1960.7 838.1 L1967.5 848.9 L1974.3 859.7 L1981.0 870.7 L1987.8 881.7 L1994.5 892.9 L2001.3 904.1 L2008.0 915.5 L2014.8 926.9"/>
</g></g>
<rect x="598.4" y="103.1" width="452.6" height="80.9" fill="none" stroke="#0000FF" stroke-width="7.2"/>
<g fill="#000" stroke="#000" stroke-width="1.2" stroke-linejoin="round">
<polygon points="1571.0 144.2 1529.8 183.0 1528.5 169.5 1510.6 205.5 1547.5 189.7 1534.1 187.6 1575.3 148.8"/>
<polygon points="1694.2 178.6 1606.6 255.1 1605.8 241.5 1586.6 276.8 1624.1 262.4 1610.8 259.8 1698.3 183.4"/>
<polygon points="1741.5 246.1 1653.9 322.1 1653.2 308.5 1633.8 343.7 1671.4 329.5 1658.0 326.8 1745.6 250.9"/>
<polygon points="1781.3 324.3 1694.0 399.7 1693.3 386.1 1673.9 421.3 1711.5 407.1 1698.1 404.5 1785.4 329.1"/>
<polygon points="1811.5 394.3 1724.3 470.1 1723.6 456.5 1704.3 491.8 1741.8 477.5 1728.5 474.9 1815.6 399.1"/>
<polygon points="1347.7 394.6 1489.9 368.7 1483.6 380.7 1518.2 360.3 1478.6 353.4 1488.8 362.5 1346.5 388.4"/>
<polygon points="1394.8 454.7 1537.3 428.2 1531.1 440.3 1565.6 419.8 1526.0 413.0 1536.2 422.0 1393.6 448.5"/>
<polygon points="1442.1 519.3 1584.6 493.1 1578.3 505.2 1612.9 484.7 1573.3 477.8 1583.5 486.9 1440.9 513.1"/>
<polygon points="1472.4 580.8 1614.3 554.7 1608.0 566.8 1642.6 546.3 1603.0 539.4 1613.2 548.5 1471.2 574.6"/>
<polygon points="1497.6 640.4 1640.5 613.5 1634.3 625.6 1668.8 605.0 1629.2 598.3 1639.4 607.3 1496.4 634.2"/>
</g>
<g font-family="'Liberation Serif', 'Times New Roman', serif" font-size="46" style="font-kerning:none">
<g fill="#0072BD">
<text transform="translate(118.8 955.4) scale(0.97 1)" text-anchor="end">0</text>
<text transform="translate(118.8 848.9) scale(0.97 1)" text-anchor="end">10</text>
<text transform="translate(118.8 742.3) scale(0.97 1)" text-anchor="end">20</text>
<text transform="translate(118.8 635.8) scale(0.97 1)" text-anchor="end">30</text>
<text transform="translate(118.8 529.2) scale(0.97 1)" text-anchor="end">40</text>
<text transform="translate(118.8 422.7) scale(0.97 1)" text-anchor="end">50</text>
<text transform="translate(118.8 316.2) scale(0.97 1)" text-anchor="end">60</text>
<text transform="translate(118.8 209.6) scale(0.97 1)" text-anchor="end">70</text>
<text transform="translate(118.8 103.1) scale(0.97 1)" text-anchor="end">80</text>
<text font-size="49.5" text-anchor="middle" transform="translate(50.8 513.8) rotate(-90)">Current (A)</text>
</g>
<g fill="#D95319">
<text transform="translate(2218.3 955.4) scale(0.97 1)">0</text>
<text transform="translate(2218.3 813.3) scale(0.97 1)">0.5</text>
<text transform="translate(2220.0 671.3) scale(0.97 1)">1</text>
<text transform="translate(2220.0 529.2) scale(0.97 1)">1.5</text>
<text transform="translate(2218.3 387.2) scale(0.97 1)">2</text>
<text transform="translate(2218.3 245.2) scale(0.97 1)">2.5</text>
<text transform="translate(2218.3 103.1) scale(0.97 1)">3</text>
<text transform="translate(2204.3 64.7) scale(0.97 1)"><tspan font-size="55" dy="5.5">×</tspan><tspan x="35.26" dy="-5.5">10</tspan><tspan x="80.1" dy="-22.1" font-size="39">4</tspan></text>
<text font-size="45" text-anchor="middle" transform="translate(2327.4 514.4) rotate(-90)">Power (W)</text>
</g>
<g fill="#262626">
<text transform="translate(135.0 998.6) scale(0.97 1)" text-anchor="middle">0</text>
<text transform="translate(430.3 998.6) scale(0.97 1)" text-anchor="middle">100</text>
<text transform="translate(725.6 998.6) scale(0.97 1)" text-anchor="middle">200</text>
<text transform="translate(1020.9 998.6) scale(0.97 1)" text-anchor="middle">300</text>
<text transform="translate(1316.1 998.6) scale(0.97 1)" text-anchor="middle">400</text>
<text transform="translate(1611.4 998.6) scale(0.97 1)" text-anchor="middle">500</text>
<text transform="translate(1906.7 998.6) scale(0.97 1)" text-anchor="middle">600</text>
<text transform="translate(2202.0 998.6) scale(0.97 1)" text-anchor="middle">700</text>
<text font-size="49.5" text-anchor="middle" x="1164.6" y="1062.8">Voltage (V)</text>
</g>
<g fill="#000">
<text transform="translate(616.0 157.7) scale(0.97 1)" font-size="38.4" font-weight="bold">Irradiance = 1000 W/m<tspan x="386.1" dy="-16.5" font-size="30.5">2</tspan></text>
<text transform="translate(1589.7 138.0) scale(0.97 1)" font-size="37.4">15 <tspan x="49.4" dy="-17" font-size="27.5">o</tspan><tspan x="67.2" dy="17">C</tspan></text>
<text transform="translate(1712.8 172.1) scale(0.97 1)" font-size="37.4">20 <tspan x="49.4" dy="-17" font-size="27.5">o</tspan><tspan x="67.2" dy="17">C</tspan></text>
<text transform="translate(1760.8 239.3) scale(0.97 1)" font-size="37.4">25 <tspan x="49.4" dy="-17" font-size="27.5">o</tspan><tspan x="67.2" dy="17">C</tspan></text>
<text transform="translate(1800.9 317.9) scale(0.97 1)" font-size="37.4">30 <tspan x="49.4" dy="-17" font-size="27.5">o</tspan><tspan x="67.2" dy="17">C</tspan></text>
<text transform="translate(1828.9 387.9) scale(0.97 1)" font-size="37.4">35 <tspan x="49.4" dy="-17" font-size="27.5">o</tspan><tspan x="67.2" dy="17">C</tspan></text>
<text transform="translate(1258.1 413.9) scale(0.97 1)" font-size="37.4">15 <tspan x="49.4" dy="-17" font-size="27.5">o</tspan><tspan x="67.2" dy="17">C</tspan></text>
<text transform="translate(1302.2 472.2) scale(0.97 1)" font-size="37.4">20 <tspan x="49.4" dy="-17" font-size="27.5">o</tspan><tspan x="67.2" dy="17">C</tspan></text>
<text transform="translate(1350.1 537.3) scale(0.97 1)" font-size="37.4">25 <tspan x="49.4" dy="-17" font-size="27.5">o</tspan><tspan x="67.2" dy="17">C</tspan></text>
<text transform="translate(1381.4 599.2) scale(0.97 1)" font-size="37.4">30 <tspan x="49.4" dy="-17" font-size="27.5">o</tspan><tspan x="67.2" dy="17">C</tspan></text>
<text transform="translate(1407.0 658.7) scale(0.97 1)" font-size="37.4">35 <tspan x="49.4" dy="-17" font-size="27.5">o</tspan><tspan x="67.2" dy="17">C</tspan></text>
</g></g></svg>
</body></html>
